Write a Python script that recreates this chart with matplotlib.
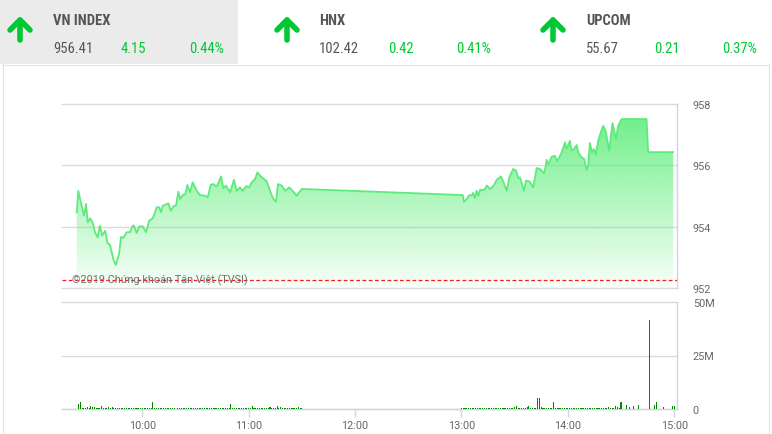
import numpy as np
import matplotlib
matplotlib.use('Agg')
import matplotlib.pyplot as plt
from matplotlib import font_manager as fm
from matplotlib.lines import Line2D
from matplotlib.patches import Rectangle, Polygon

W, H = 772, 435

# ---------------- data ----------------
index_names = ['VN INDEX', 'HNX', 'UPCOM']
index_values = ['956.41', '102.42', '55.67']
index_changes = ['4.15', '0.42', '0.21']
index_pcts = ['0.44%', '0.41%', '0.37%']

reference_price = 952.26

# minutes after 9:00
price_minutes = [
    23.0, 23.9, 25.3, 27.1, 28.3, 29.2, 30.5, 32.0, 33.3, 34.8, 36.1, 37.3, 39.1, 40.3,
    41.8, 43.6, 45.0, 46.9, 48.0, 49.3, 51.2, 53.1, 54.6, 55.3, 56.8, 58.3, 60.2, 62.1,
    63.9, 65.9, 68.1, 69.6, 70.5, 71.5, 74.7, 76.0, 77.9, 79.0, 80.3, 81.3, 82.8, 84.3,
    85.4, 86.9, 88.4, 90.7, 92.5, 95.4, 96.9, 98.6, 100.0, 101.6, 102.3, 104.4, 105.7,
    107.2, 109.5, 111.7, 113.2, 115.1, 116.6, 118.5, 120.3, 121.7, 123.6, 124.9, 126.8,
    130.2, 132.0, 133.9, 135.4, 136.5, 138.6, 140.5, 142.9, 145.2, 147.1, 149.9,
    240.7, 241.4, 242.9, 244.4, 245.7, 246.6, 247.6, 248.6, 249.5, 250.5, 252.9, 254.3,
    256.1, 258.0, 259.9, 262.3, 263.6, 265.5, 267.0, 269.2, 270.8, 272.1, 273.0, 275.3,
    276.4, 278.3, 280.5, 282.4, 284.3, 286.5, 287.6, 288.0, 289.2, 290.8, 292.7, 294.0,
    296.5, 298.4, 299.3, 301.2, 302.1, 303.4, 305.0, 305.9, 307.8, 309.2, 310.6, 311.5,
    312.4, 313.7, 314.7, 315.7, 317.1, 318.6, 319.9, 321.3, 323.3, 325.2, 327.1, 328.4,
    330.3, 344.4, 345.3, 359.4,
]
price_values = [
    954.47, 955.17, 954.80, 954.36, 954.74, 954.14, 954.27, 954.14, 953.82, 953.65, 954.03,
    953.71, 953.87, 953.47, 953.40, 952.95, 952.75, 953.11, 953.67, 953.63, 953.82, 953.82,
    954.03, 954.03, 953.79, 954.01, 954.01, 953.82, 954.20, 954.27, 954.63, 954.63, 954.47,
    954.68, 954.76, 954.52, 954.68, 954.68, 955.14, 954.90, 955.03, 955.07, 955.36, 955.12,
    955.45, 955.17, 955.03, 955.01, 954.96, 955.37, 955.39, 955.32, 955.34, 955.64, 955.25,
    955.34, 955.12, 955.53, 955.17, 955.28, 955.17, 955.32, 955.28, 955.45, 955.55, 955.77,
    955.64, 955.48, 955.17, 954.90, 954.81, 955.39, 955.34, 955.17, 955.28, 955.14, 955.01,
    955.23,
    955.03, 954.81, 954.90, 955.03, 955.01, 955.10, 954.93, 955.17, 955.01, 955.20, 955.20,
    955.34, 955.23, 955.32, 955.53, 955.64, 955.47, 955.17, 955.61, 955.88, 955.83, 955.58,
    955.61, 955.17, 955.50, 955.48, 955.28, 955.91, 955.88, 955.74, 955.99, 956.18, 956.04,
    956.28, 956.31, 956.13, 956.42, 956.75, 956.53, 956.80, 956.48, 956.53, 956.66, 956.42,
    956.26, 956.21, 955.85, 955.99, 956.73, 956.42, 956.53, 956.35, 956.80, 957.08, 957.29,
    957.13, 956.48, 957.38, 956.86, 957.29, 957.51, 957.51, 956.43, 956.43,
]

# volume (millions), one bar per minute
morning_start = 24
morning_volumes = [
    2.3, 3.1, 0.5, 0.7, 0.5, 0.9, 0.5, 1.4, 0.9, 0.8, 0.6, 0.6, 0.6, 1.4, 0.6, 0.7,
    0.4, 0.9, 0.4, 0.9, 0.6, 0.4, 0.7, 0.4, 0.4, 0.4, 0.5, 0.4, 0.4, 0.4, 0.6, 0.4,
    0.4, 0.4, 0.4, 0.5, 0.4, 0.4, 0.4, 0.4, 0.4, 0.5, 3.4, 0.5, 0.4, 0.4, 0.6, 0.4,
    0.4, 0.5, 0.4, 0.4, 0.4, 0.4, 0.4, 0.0, 0.4, 0.4, 0.4, 0.4, 0.4, 0.5, 0.4, 0.4,
    0.4, 0.4, 0.4, 0.4, 0.4, 0.4, 0.4, 0.5, 0.4, 0.4, 0.4, 0.4, 0.4, 0.4, 0.4, 0.5,
    0.4, 0.4, 0.4, 0.4, 0.4, 0.6, 2.3, 0.5, 0.4, 0.4, 0.4, 0.4, 0.6, 0.4, 0.4, 0.4,
    0.4, 0.5, 1.4, 0.4, 0.4, 0.4, 0.4, 0.5, 0.4, 0.4, 0.4, 0.4, 0.9, 0.4, 0.4, 0.4,
    1.4, 0.4, 0.9, 0.4, 0.4, 0.4, 0.5, 0.4, 0.6, 0.4, 0.4, 0.4, 0.9, 0.4, 0.4,
]
afternoon_start = 240
afternoon_volumes = [
    0.5, 0.4, 0.4, 0.4, 0.4, 0.4, 0.4, 0.4, 0.4, 0.4, 0.5, 0.4, 0.4, 0.4, 0.4, 0.5,
    0.4, 0.4, 0.5, 0.4, 0.6, 0.4, 0.5, 0.5, 0.4, 0.4, 0.6, 0.5, 0.6, 0.5, 0.9, 1.2,
    0.6, 0.5, 0.6, 0.4, 0.6, 0.9, 1.2, 0.6, 0.5, 0.4, 0.4, 5.1, 5.1, 1.0, 0.6, 0.5,
    0.5, 0.6, 0.6, 0.7, 3.4, 0.5, 0.4, 0.4, 0.4, 0.4, 0.4, 0.4, 0.6, 0.4, 0.5, 0.6,
    0.4, 0.6, 0.4, 0.5, 0.4, 0.5, 0.4, 0.4, 0.6, 0.4, 0.6, 0.6, 0.5, 0.6, 0.7, 0.5,
    0.6, 0.4, 0.6, 0.9, 0.5, 0.4, 0.6, 1.2, 0.9, 0.6, 3.4,
]
late_minutes = [333, 335, 337, 340, 346, 349, 350, 354, 359, 360]
late_volumes = [1.9, 0.9, 1.5, 1.9, 41.6, 1.9, 3.3, 1.1, 1.6, 1.6]

price_ticks = [952, 954, 956, 958]
volume_ticks = [0, 25, 50]
volume_tick_labels = ['0', '25M', '50M']
time_ticks = [60, 120, 180, 240, 300, 360]
time_tick_labels = ['10:00', '11:00', '12:00', '13:00', '14:00', '15:00']

# ---------------- fonts ----------------
names = {f.name for f in fm.fontManager.ttflist}
BASE = 'Roboto' if 'Roboto' in names else 'DejaVu Sans'
COND = next((n for n in ['Roboto Condensed', 'Liberation Sans Narrow'] if n in names), BASE)
FAM = [BASE, 'DejaVu Sans']
HFAM = [COND, 'DejaVu Sans']

GREEN_TXT = '#00c832'
GRAY_TXT = '#555555'
AXIS_BLUE = '#ccd6eb'
GRID = '#dadada'


def fx(x):
    return x / W


def fy(y):
    return 1 - y / H


fig = plt.figure(figsize=(W / 100, H / 100), dpi=100)
fig.patch.set_facecolor('white')

# ---------------- header ----------------
fig.add_artist(Rectangle((0, fy(65)), fx(238), 65 / H, transform=fig.transFigure,
                         facecolor='#ebebeb', edgecolor='none', zorder=0))
# panel border
for (x0, y0, x1, y1) in [(2, 65.5, 769, 65.5), (2.5, 65, 2.5, 435), (768.5, 65, 768.5, 435)]:
    fig.add_artist(Line2D([fx(x0), fx(x1)], [fy(y0), fy(y1)], transform=fig.transFigure,
                          color='#e4e4e4', lw=0.8))

arrow_x = [20, 287, 553]
text_x = [53, 319, 586]
chg_x = [121, 388, 654]
pct_x = [189, 456, 722]
HSIZE = 10.5
for i, name in enumerate(index_names):
    ax_c = arrow_x[i]
    fig.add_artist(Line2D([fx(ax_c), fx(ax_c)], [fy(41), fy(21)], transform=fig.transFigure,
                          color=GREEN_TXT, lw=4.0, solid_capstyle='round'))
    fig.add_artist(Line2D([fx(ax_c - 10), fx(ax_c), fx(ax_c + 10)], [fy(31), fy(21), fy(31)],
                          transform=fig.transFigure, color=GREEN_TXT, lw=4.0,
                          solid_capstyle='round', solid_joinstyle='round'))
    fig.text(fx(text_x[i]), fy(25), name, family=HFAM, fontsize=HSIZE, fontweight='bold',
             color=GRAY_TXT, ha='left', va='baseline')
    fig.text(fx(text_x[i]), fy(53), index_values[i], family=HFAM, fontsize=HSIZE,
             color=GRAY_TXT, ha='left', va='baseline')
    fig.text(fx(chg_x[i]), fy(53), index_changes[i], family=HFAM, fontsize=HSIZE,
             color=GREEN_TXT, ha='left', va='baseline')
    fig.text(fx(pct_x[i]), fy(53), index_pcts[i], family=HFAM, fontsize=HSIZE,
             color=GREEN_TXT, ha='left', va='baseline')

XMIN, XMAX = 14.7, 361.4
L, R = 62, 676.7

# ---------------- price axes ----------------
ax = fig.add_axes([fx(L), fy(289), (R - L) / W, (289 - 105) / H])
ax.set_xlim(XMIN, XMAX)
ax.set_ylim(price_ticks[0], price_ticks[-1])
ax.set_facecolor('none')
for s in ['top', 'left', 'bottom']:
    ax.spines[s].set_visible(False)
ax.spines['right'].set_color(AXIS_BLUE)
ax.spines['right'].set_linewidth(1)
ax.set_xticks([])
ax.yaxis.tick_right()
ax.set_yticks(price_ticks)
ax.set_yticklabels([str(t) for t in price_ticks], family=FAM, fontsize=7.8, color='#666666')
ax.tick_params(axis='y', length=0, pad=11.5)
ax.yaxis.grid(True, color=GRID, lw=1)
for gl in ax.get_ygridlines():
    gl.set_clip_on(False)
ax.set_axisbelow(True)

pm = np.array(price_minutes)
pv = np.array(price_values)
ymin = price_ticks[0]
ymax = price_ticks[-1]
top_rgb = np.array([94, 238, 122]) / 255.0
n = 256
grad = np.ones((n, 1, 4))
grad[:, 0, :3] = top_rgb
grad[:, 0, 3] = np.linspace(0.95, 0.04, n)
im = ax.imshow(grad, extent=(XMIN, XMAX, ymin, ymax), aspect='auto', origin='upper',
               zorder=1, interpolation='bilinear')
verts = list(zip(pm, pv)) + [(pm[-1], ymin), (pm[0], ymin)]
poly = Polygon(verts, closed=True, transform=ax.transData, facecolor='none', edgecolor='none')
ax.add_patch(poly)
im.set_clip_path(poly)
ax.set_xlim(XMIN, XMAX)
ax.set_ylim(ymin, ymax)
ax.plot(pm, pv, color='#5eeb7c', lw=1.3, zorder=3, solid_joinstyle='round')
ax.axhline(reference_price, color='#ff1a1a', lw=0.9, ls=(0, (3, 2)), zorder=4)

fig.text(fx(72), fy(280), '©2019 Chứng khoán Tân Việt (TVSI)', family=FAM, fontsize=7.8,
         color='#707070', ha='left', va='center', zorder=5)

# ---------------- volume axes ----------------
vax = fig.add_axes([fx(L), fy(410), (R - L) / W, (410 - 303) / H])
vax.set_xlim(XMIN, XMAX)
vax.set_ylim(volume_ticks[0], volume_ticks[-1])
vax.set_facecolor('none')
for s in ['top', 'left']:
    vax.spines[s].set_visible(False)
for s in ['right', 'bottom']:
    vax.spines[s].set_color(AXIS_BLUE)
    vax.spines[s].set_linewidth(1)
vax.yaxis.tick_right()
vax.set_yticks(volume_ticks)
vax.set_yticklabels(volume_tick_labels, family=FAM, fontsize=7.8, color='#666666')
vax.tick_params(axis='y', length=0, pad=11.5)
vax.yaxis.grid(True, color=GRID, lw=1)
for gl in vax.get_ygridlines():
    gl.set_clip_on(False)
vax.set_axisbelow(True)
vax.set_xticks(time_ticks)
vax.set_xticklabels(time_tick_labels, family=FAM, fontsize=7.8, color='#666666')
vax.tick_params(axis='x', length=6, width=1, color=AXIS_BLUE, pad=2)

mm = morning_start + np.arange(len(morning_volumes))
am = afternoon_start + np.arange(len(afternoon_volumes))
vol_minutes = np.concatenate([mm, am, np.array(late_minutes)])
vol_values = np.concatenate([morning_volumes, afternoon_volumes, late_volumes])
vax.bar(vol_minutes, vol_values, width=0.6, color='#008a00', linewidth=0, zorder=3)

fig.savefig('out.png', dpi=100, facecolor='white')
